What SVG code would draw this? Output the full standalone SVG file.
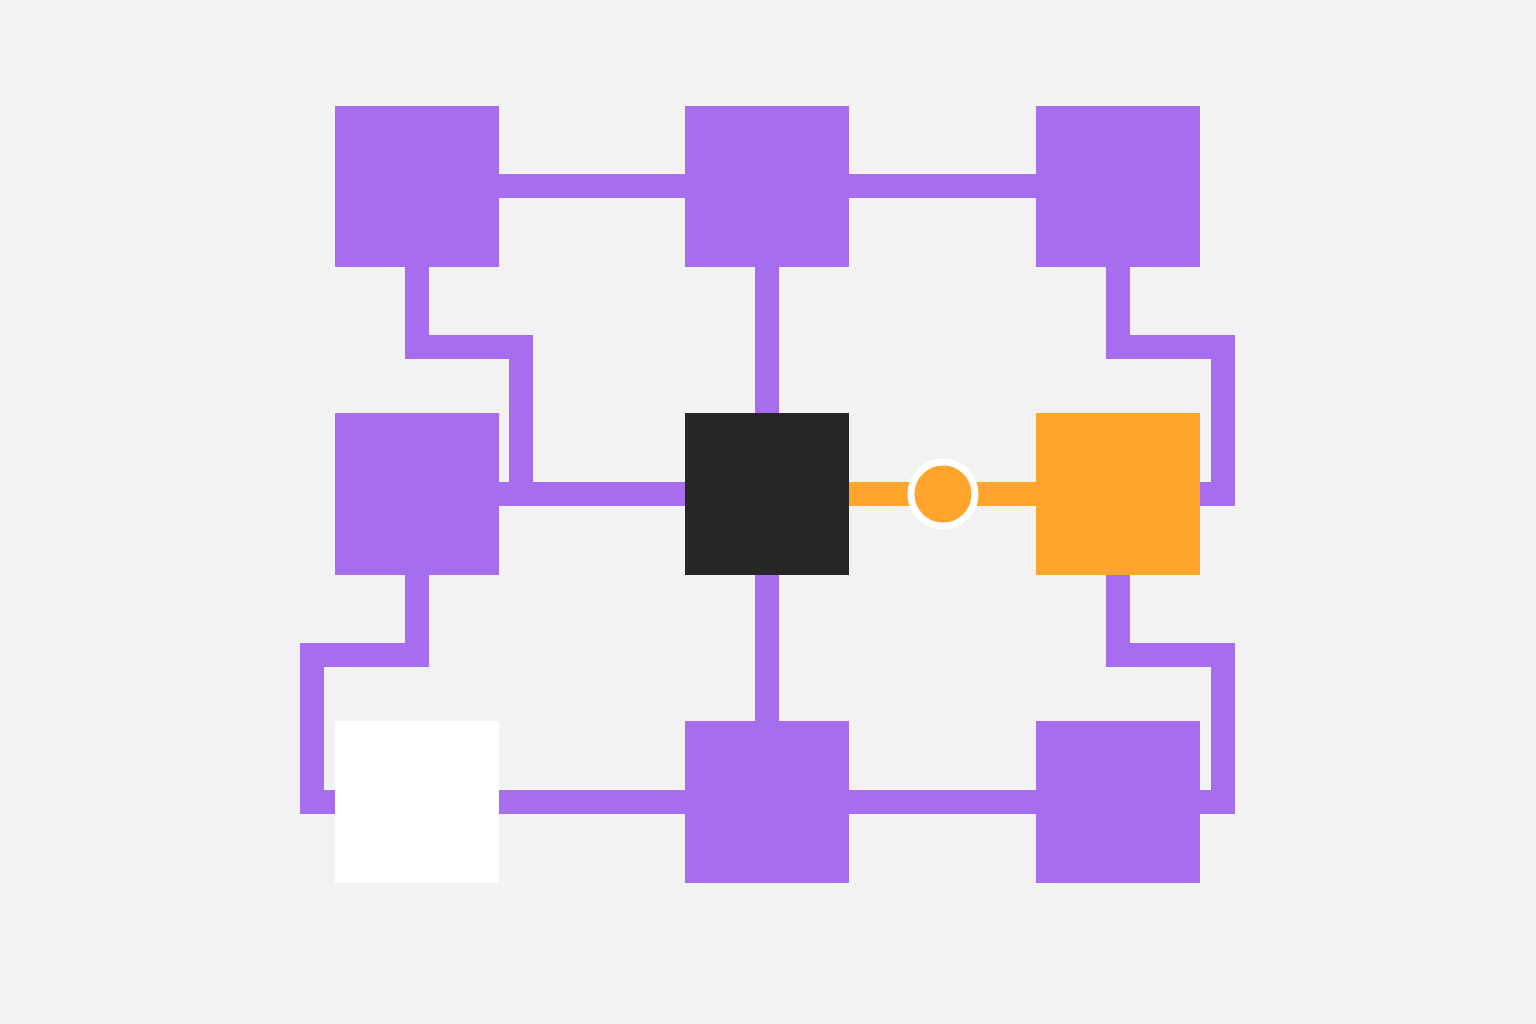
<svg xmlns="http://www.w3.org/2000/svg" width="1536" height="1024" viewBox="0 0 1536 1024">
<style>
.c{fill:none;stroke:#A66EEE;stroke-width:24;stroke-linejoin:miter;stroke-linecap:butt}
.o{fill:none;stroke:#FFA52D;stroke-width:24}
.p{fill:#A66EEE}
</style>
<rect width="1536" height="1024" fill="#F2F2F2"/>
<g id="connectors">
<path class="c" d="M499 186H685M849 186H1036"/>
<path class="c" d="M417 267V347H521V494H685"/>
<path class="c" d="M767 267V413"/>
<path class="c" d="M1118 267V347H1223V494H1200"/>
<path class="c" d="M499 494H685"/>
<path class="c" d="M767 575V721"/>
<path class="c" d="M417 575V655H312V802H335"/>
<path class="c" d="M1118 575V655H1223V802H1200"/>
<path class="c" d="M499 802H685M849 802H1036"/>
<path class="o" d="M849 494H1036"/>
<circle id="junction" cx="943" cy="494" r="32" fill="#FFA52D" stroke="#FFFFFF" stroke-width="7"/>
</g>
<g id="n11"><rect class="p" x="335" y="106" width="164" height="161"/></g>
<g id="n12"><rect class="p" x="685" y="106" width="164" height="161"/></g>
<g id="n13"><rect class="p" x="1036" y="106" width="164" height="161"/></g>
<g id="n21"><rect class="p" x="335" y="413" width="164" height="162"/></g>
<g id="n22"><rect fill="#262626" x="685" y="413" width="164" height="162"/></g>
<g id="n23"><rect fill="#FFA52D" x="1036" y="413" width="164" height="162"/></g>
<g id="n31"><rect fill="#FFFFFF" x="335" y="721" width="164" height="162"/></g>
<g id="n32"><rect class="p" x="685" y="721" width="164" height="162"/></g>
<g id="n33"><rect class="p" x="1036" y="721" width="164" height="162"/></g>
</svg>
